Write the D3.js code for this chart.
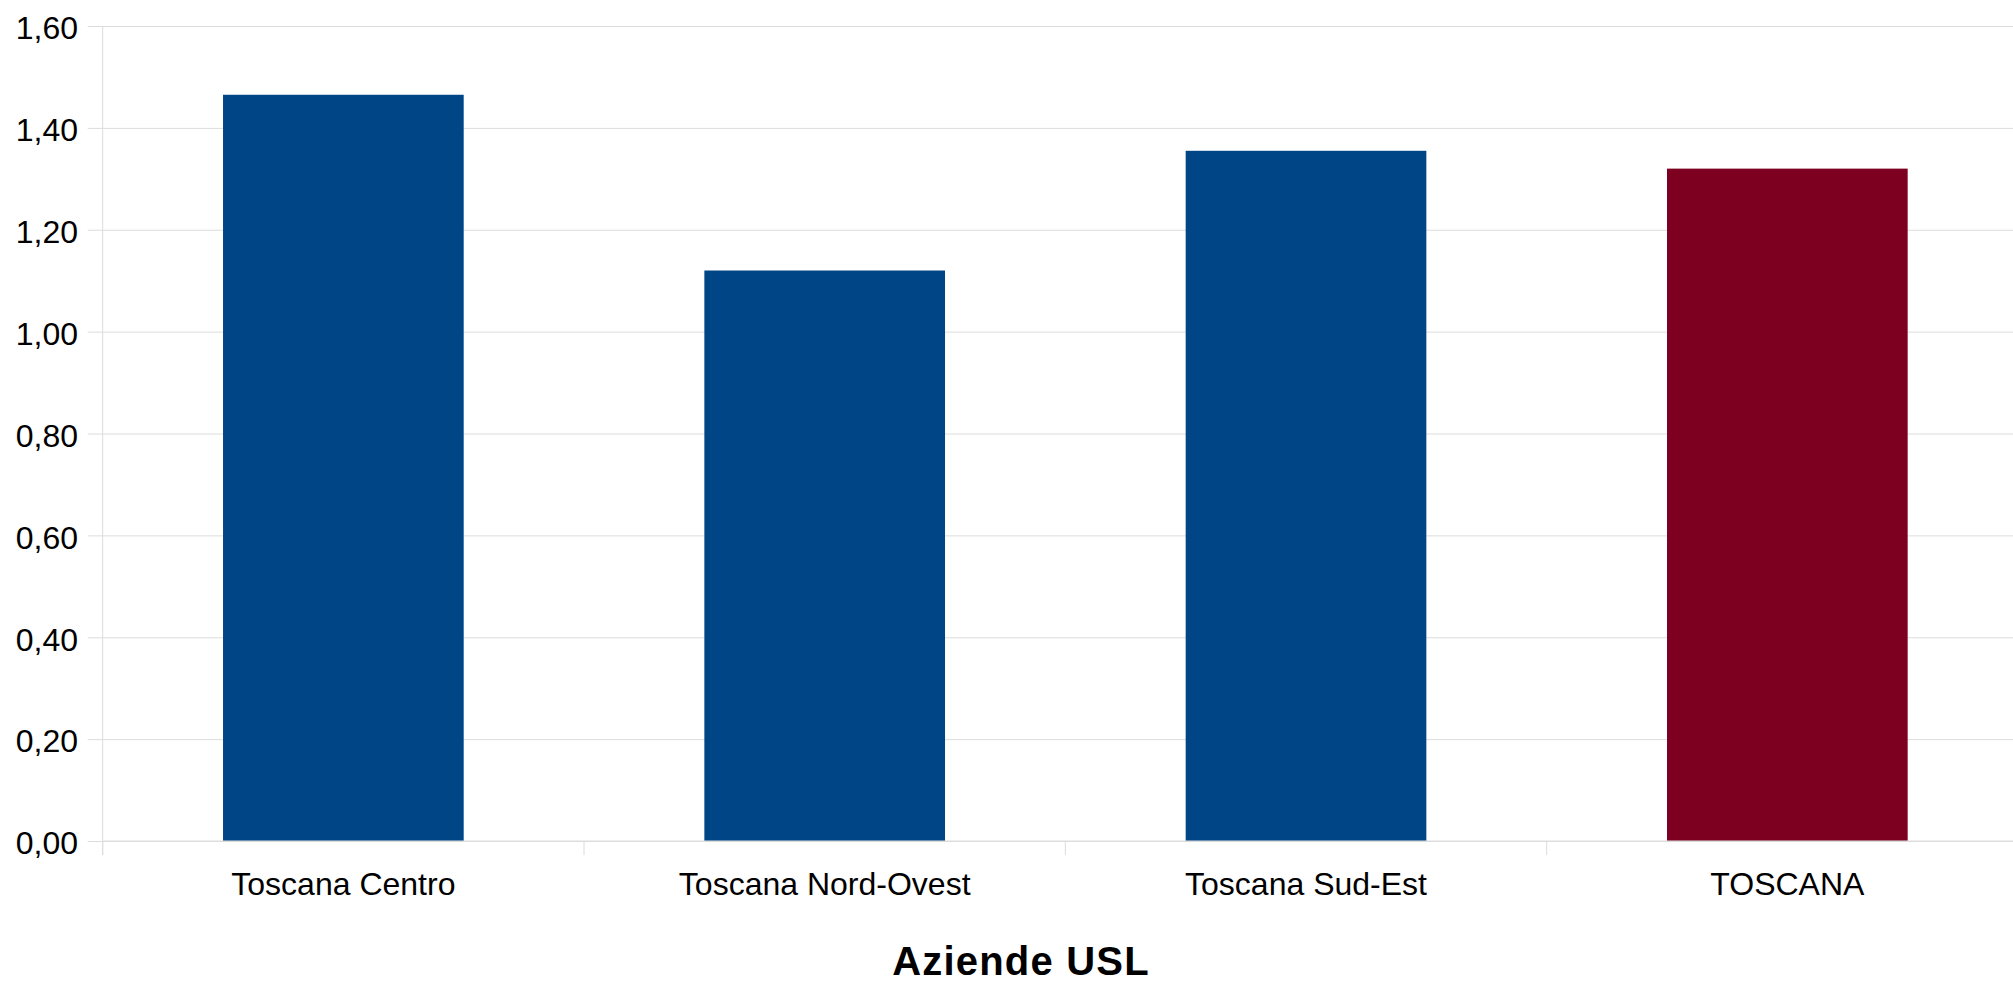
<!DOCTYPE html>
<html>
<head>
<meta charset="utf-8">
<script src="https://cdn.jsdelivr.net/npm/d3@7"></script>
<style>
  html, body { margin: 0; padding: 0; background: #ffffff; }
  svg { display: block; }
  text { font-family: "Liberation Sans", Arial, sans-serif; }
</style>
</head>
<body>
<svg id="chart" width="2013" height="984"></svg>
<script>
const categories = ["Toscana Centro", "Toscana Nord-Ovest", "Toscana Sud-Est", "TOSCANA"];
const values = [1.465, 1.12, 1.355, 1.32];
const barColors = ["#004586", "#004586", "#004586", "#7e0021"];
const yTicks = [0, 0.2, 0.4, 0.6, 0.8, 1.0, 1.2, 1.4, 1.6];
const xTitle = "Aziende USL";

const svg = d3.select("#chart");
const plotLeft = 102.7, plotRight = 2028, plotTop = 26, plotBottom = 841;

const x = d3.scaleBand().domain(categories).range([plotLeft, plotRight]).paddingInner(0.5).paddingOuter(0.25);
const y = d3.scaleLinear().domain([0, 1.6]).range([plotBottom, plotTop]);
const step = x.step();

const itLocale = d3.formatLocale({decimal: ",", thousands: ".", grouping: [3], currency: ["", " €"]});
const fmt = itLocale.format(".2f");

// gridlines + y tick marks
const yAxis = d3.axisLeft(y).tickValues(yTicks).tickSize(-(plotRight - plotLeft)).tickSizeOuter(0).tickFormat(fmt).tickPadding(24);
const gy = svg.append("g").attr("transform", `translate(${plotLeft},0)`).call(yAxis);
gy.select(".domain").remove();
gy.selectAll(".tick line").attr("stroke", "#dcdcdc").attr("stroke-width", 1).attr("x1", -15);
gy.selectAll(".tick text")
  .attr("font-size", 32).attr("fill", "#000").attr("x", 78 - plotLeft).attr("dy", "0.4em")
  .style("font-family", "'Liberation Sans', Arial, sans-serif");

// left axis line
svg.append("line").attr("x1", plotLeft).attr("x2", plotLeft).attr("y1", plotTop).attr("y2", plotBottom + 14)
  .attr("stroke", "#dcdcdc").attr("stroke-width", 1);

// bars
svg.append("g").selectAll("rect").data(categories).join("rect")
  .attr("x", d => x(d))
  .attr("width", x.bandwidth())
  .attr("y", (d, i) => y(values[i]))
  .attr("height", (d, i) => y(0) - y(values[i]))
  .attr("fill", (d, i) => barColors[i]);

// x axis baseline
svg.append("line").attr("x1", plotLeft).attr("x2", plotRight).attr("y1", y(0)).attr("y2", y(0))
  .attr("stroke", "#dcdcdc").attr("stroke-width", 1);

// category boundary ticks
const bounds = categories.map(c => x(c) - step * 0.25).concat([x(categories[categories.length - 1]) + step * 0.75]);
svg.append("g").selectAll("line").data(bounds).join("line")
  .attr("x1", d => d).attr("x2", d => d).attr("y1", y(0)).attr("y2", y(0) + 14)
  .attr("stroke", "#dcdcdc").attr("stroke-width", 1);

// category labels
svg.append("g").selectAll("text").data(categories).join("text")
  .attr("x", d => x(d) + x.bandwidth() / 2)
  .attr("y", 895)
  .attr("text-anchor", "middle")
  .attr("font-size", 32)
  .attr("fill", "#000")
  .text(d => d);

// axis title
svg.append("text").attr("x", 1021).attr("y", 975).attr("text-anchor", "middle")
  .attr("font-size", 40).attr("font-weight", "bold").attr("letter-spacing", 1.2)
  .attr("fill", "#000").text(xTitle);
</script>
</body>
</html>
